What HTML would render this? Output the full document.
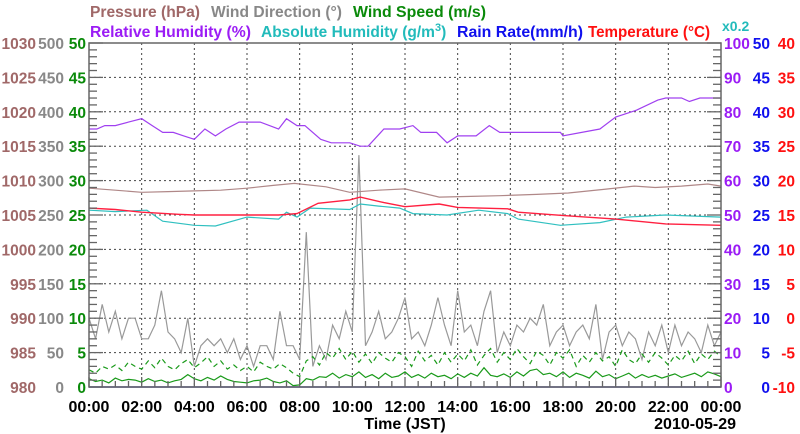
<!DOCTYPE html>
<html><head><meta charset="utf-8">
<style>
body{margin:0;background:#fff;}
svg{display:block;font-family:"Liberation Sans",Arial,sans-serif;font-weight:bold;}
</style></head>
<body>
<svg id="chart" width="800" height="434" viewBox="0 0 800 434" xmlns="http://www.w3.org/2000/svg">
<g font-size="16">
<text x="90" y="17" fill="#a06868" textLength="110" lengthAdjust="spacingAndGlyphs">Pressure (hPa)</text>
<text x="211" y="17" fill="#888" textLength="131" lengthAdjust="spacingAndGlyphs">Wind Direction (°)</text>
<text x="353" y="17" fill="#0a8a0a" textLength="133" lengthAdjust="spacingAndGlyphs">Wind Speed (m/s)</text>
<text x="90" y="37" fill="#9b1cf5" textLength="161" lengthAdjust="spacingAndGlyphs">Relative Humidity (%)</text>
<text x="261" y="37" fill="#22bbbb" font-size="15.5">Absolute Humidity (g/m<tspan font-size="11" dy="-6">3</tspan><tspan dy="6">)</tspan></text>
<text x="457" y="37" fill="#1010ee" textLength="126" lengthAdjust="spacingAndGlyphs">Rain Rate(mm/h)</text>
<text x="588" y="37" fill="#ff1010" textLength="122" lengthAdjust="spacingAndGlyphs">Temperature (°C)</text>
<text x="722" y="31" font-size="14" fill="#22bbbb">x0.2</text>
</g>
<g id="grid"></g>
<g id="series"></g>
<g id="axes"></g>
</svg>
<script>
const hours=[0,2,4,6,8,10,12,14,16,18,20,22,24];
const xTickLabels=["00:00","02:00","04:00","06:00","08:00","10:00","12:00","14:00","16:00","18:00","20:00","22:00","00:00"];
const pressureTicks=[980,985,990,995,1000,1005,1010,1015,1020,1025,1030];
const windDirTicks=[0,50,100,150,200,250,300,350,400,450,500];
const windSpdTicks=[0,5,10,15,20,25,30,35,40,45,50];
const rhTicks=[0,10,20,30,40,50,60,70,80,90,100];
const rainTicks=[0,5,10,15,20,25,30,35,40,45,50];
const tempTicks=[-10,-5,0,5,10,15,20,25,30,35,40];

const rhT=[0,0.3,0.6,1.0,1.5,2.0,2.4,2.8,3.2,3.6,4.0,4.4,4.8,5.2,5.7,6.5,7.2,7.5,7.9,8.2,8.8,9.2,9.9,10.3,10.6,11.2,11.8,12.3,12.6,13.2,13.6,14.0,14.7,15.2,15.6,17.9,18.0,19.4,20.0,20.8,21.6,21.9,22.5,22.8,23.2,24];
const rhV=[75,75,76,76,77,78,76,74,74,73,72,75,73,75,77,77,75,78,76,76,72,71,71,70,70,75,75,76,74,74,71,73,73,76,74,74,73,75,78.5,80.5,83.4,84,84,83,84,84];
const pT=[0,1,2,3,4,5,6,7,7.8,9,9.9,11,12,13.3,14.5,15.6,17,18.2,19.5,20.7,21.5,22.5,23.5,24];
const pV=[1008.9,1008.6,1008.3,1008.4,1008.5,1008.6,1008.9,1009.3,1009.6,1009.1,1008.3,1008.6,1008.8,1007.6,1007.7,1007.8,1008.0,1008.2,1008.7,1009.2,1009.0,1009.2,1009.5,1009.2];
const tT=[0,1,2,3.4,4,5,6,7.2,7.9,8.7,9.9,10.3,11.2,12,13.3,14,15.9,16.3,18.1,20,21.9,24];
const tV=[16.0,15.8,15.4,15.1,15.0,15.0,15.0,15.0,15.2,16.7,17.2,17.6,16.8,16.2,16.6,16.1,15.9,15.4,14.9,14.4,13.7,13.5];
const ahT=[0,1,2.2,2.8,4,4.8,6,7.2,7.5,7.9,8.4,9.9,10.3,11,11.8,12.3,13.6,14.8,15.9,16.3,17.9,19.4,20.4,21.9,24];
const ahV=[25.7,25.5,25.7,24.1,23.5,23.4,24.7,24.4,25.4,24.7,26.0,25.8,26.6,26.3,26.0,25.2,25.0,25.7,25.2,24.4,23.5,23.9,24.7,25.0,24.7];
const windDir=[100,70,120,80,110,70,100,100,70,70,90,140,80,70,50,100,30,60,70,60,70,50,70,40,60,30,60,60,40,110,60,60,40,225,30,60,40,90,70,110,80,337,60,80,110,70,80,100,130,70,80,60,90,130,90,60,140,80,90,60,110,140,50,80,60,90,80,100,90,120,60,80,90,60,80,90,70,120,40,80,90,60,80,70,40,80,60,90,50,90,60,80,70,50,90,60,80];
const windSpd=[1.2,0.8,1.0,0.6,1.3,0.9,1.1,1.0,0.7,1.2,0.8,1.0,0.6,0.9,1.1,1.8,1.2,0.9,1.4,1.0,1.6,1.1,0.8,0.7,0.6,0.9,1.0,1.3,0.8,0.6,0.9,0.2,0.3,1.2,1.0,1.5,1.4,2.0,1.3,1.8,1.5,2.2,1.4,1.8,1.2,2.0,1.4,1.6,2.2,1.4,1.8,1.3,2.0,1.5,1.7,1.2,1.9,1.4,2.0,1.6,2.8,1.7,1.5,1.9,1.4,2.2,1.6,2.4,2.6,1.8,2.0,1.5,2.2,1.4,2.0,1.7,1.3,2.3,1.5,1.8,1.2,1.6,2.0,1.3,1.8,1.4,1.7,1.3,1.6,1.9,1.4,1.7,2.0,1.5,2.2,1.9,1.5];
const windGust=[2.5,2.0,3.0,2.6,3.2,2.4,3.6,3.0,2.6,3.8,2.8,4.2,3.0,2.5,3.4,4.0,2.8,3.5,4.4,3.0,3.8,2.6,3.2,2.4,3.0,2.2,3.6,3.0,2.6,3.4,2.8,2.0,1.5,3.8,4.4,3.2,5.0,4.2,5.6,4.0,5.2,3.6,4.8,3.4,5.0,4.2,3.6,5.0,4.4,3.0,5.2,3.8,4.6,3.2,5.0,3.6,4.8,3.8,5.4,3.2,4.6,5.6,3.6,5.0,4.0,5.6,4.4,3.4,5.2,4.6,3.2,5.0,4.2,5.4,3.0,4.6,3.6,5.0,3.8,4.4,3.0,5.4,4.0,3.4,4.8,3.6,5.0,4.2,3.2,4.6,3.8,5.2,3.4,4.8,4.0,5.2,4.4];
const rainRate=[0,0];

const L=89,R=721,T=43,B=387;
const xs=h=>L+(R-L)*h/24;
const yLin=(v,lo,hi)=>B-(B-T)*(v-lo)/(hi-lo);
const yP=v=>yLin(v,980,1030), yD=v=>yLin(v,0,500), yS=v=>yLin(v,0,50), yRH=v=>yLin(v,0,100), yR=v=>yLin(v,0,50), yTm=v=>yLin(v,-10,40);
const NS="http://www.w3.org/2000/svg";
function mk(tag,parent,attrs){const e=document.createElementNS(NS,tag);for(const k in attrs)e.setAttribute(k,attrs[k]);parent.appendChild(e);return e;}
const grid=document.getElementById('grid'),series=document.getElementById('series'),axes=document.getElementById('axes');

for(let i=1;i<10;i++){const y=T+(B-T)*i/10;
 const g=mk('line',grid,{x1:L,x2:R,y1:y,y2:y,stroke:'#444','stroke-width':1,'stroke-dasharray':'2,3'});
 
 }
for(let i=1;i<12;i++){const x=xs(hours[i]);
 const g=mk('line',grid,{x1:x,x2:x,y1:T,y2:B,stroke:'#444','stroke-width':1,'stroke-dasharray':'2,3'});
 
 }

function line(ts,vs,yf,color,name,dash,w){
 const d=vs.map((v,i)=>(i?'L':'M')+xs(ts[i]).toFixed(1)+','+yf(v).toFixed(1)).join('');
 const p=mk('path',series,{d:d,fill:'none',stroke:color,'stroke-width':w||1.2});
 if(dash)p.setAttribute('stroke-dasharray',dash);
 
 }
const t15=windDir.map((_,i)=>i*0.25);
line(t15,windDir,yD,'#999','wind-direction-line');
line(t15,windGust,yS,'#1a9a1a','wind-gust-line','5,4');
line(t15,windSpd,yS,'#1a9a1a','wind-speed-line');
line([0,24],rainRate,yR,'#3030c0','rain-rate-line',null,1.5);
line(pT,pV,yP,'#b08888','pressure-line');
line(ahT,ahV,yR,'#30c0c0','absolute-humidity-line');
line(tT,tV,yTm,'#ff2040','temperature-line',null,1.4);
line(rhT,rhV,yRH,'#a040f0','relative-humidity-line');

mk('rect',axes,{x:L,y:T,width:R-L,height:B-T,fill:'none',stroke:'#666','stroke-width':1.5});
for(let i=0;i<=50;i++){const y=T+(B-T)*i/50,len=i%5?8:14;
 mk('line',axes,{x1:L,x2:L+len,y1:y,y2:y,stroke:'#666','stroke-width':1.3});
 mk('line',axes,{x1:R-len,x2:R,y1:y,y2:y,stroke:'#666','stroke-width':1.3});}
for(let i=0;i<=48;i++){const x=xs(i/2),len=i%4?6:10;
 mk('line',axes,{x1:x,x2:x,y1:B-len,y2:B,stroke:'#666','stroke-width':1.3});}

function labels(arr,yf,x,anchor,color,name){arr.forEach(v=>{
 const t=mk('text',axes,{x:x,y:yf(v)+6,'text-anchor':anchor,fill:color,'font-size':15.5});
 t.textContent=v;
 
 });}
labels(pressureTicks,yP,36,'end','#a06868','pressure-tick-label');
labels(windDirTicks,yD,64,'end','#888','wind-direction-tick-label');
labels(windSpdTicks,yS,86,'end','#0a8a0a','wind-speed-tick-label');
labels(rhTicks,yRH,724,'start','#9b1cf5','rh-tick-label');
labels(rainTicks,yR,770,'end','#1010ee','rain-tick-label');
labels(tempTicks,yTm,795,'end','#ff1010','temperature-tick-label');
hours.forEach((h,i)=>{const t=mk('text',axes,{x:xs(h),y:412,'text-anchor':'middle',fill:'#000','font-size':16});
 t.textContent=xTickLabels[i];
 
 });
const xt=mk('text',axes,{x:405,y:429,'text-anchor':'middle',fill:'#000','font-size':16});
xt.textContent='Time (JST)';


const dt=mk('text',axes,{x:736,y:429,'text-anchor':'end',fill:'#000','font-size':16});
dt.textContent='2010-05-29';


</script>
</body></html>
